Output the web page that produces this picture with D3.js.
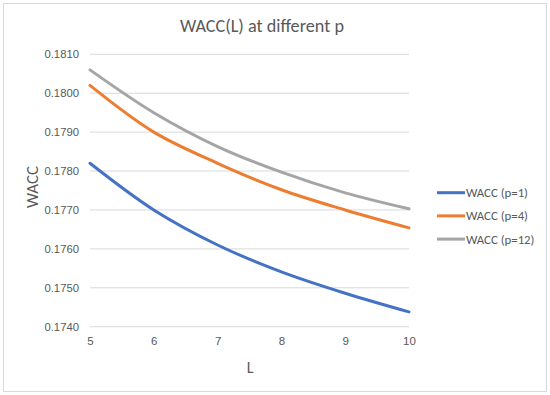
<!DOCTYPE html>
<html><head><meta charset="utf-8">
<script src="https://cdn.jsdelivr.net/npm/d3@7"></script>
<style>body{margin:0;background:#fff;}svg{display:block;font-family:Calibri,Carlito,"Liberation Sans","Open Sans",sans-serif;}</style>
</head><body>
<script>
const L = [5, 6, 7, 8, 9, 10];
const waccP1 = [0.1782, 0.1770, 0.1761, 0.17541, 0.17486, 0.17438];
const waccP4 = [0.1802, 0.1790, 0.1782, 0.17752, 0.17700, 0.17654];
const waccP12 = [0.1806, 0.1795, 0.17863, 0.17797, 0.17744, 0.17703];
const seriesNames = ["WACC (p=1)", "WACC (p=4)", "WACC (p=12)"];
const colors = ["#4472C4", "#ED7D31", "#A5A5A5"];
const yTicks = [0.1740, 0.1750, 0.1760, 0.1770, 0.1780, 0.1790, 0.1800, 0.1810];

const W = 550, H = 395;
const svg = d3.select("body").append("svg").attr("width", W).attr("height", H);
svg.append("rect").attr("x", 3.5).attr("y", 3.5).attr("width", W - 7).attr("height", H - 7)
  .attr("fill", "#fff").attr("stroke", "#d9d9d9");

const x = d3.scaleLinear().domain([5, 10]).range([90, 409]);
const y = d3.scaleLinear().domain([0.1740, 0.1810]).range([326.7, 54.3]);

// gridlines
svg.append("g").selectAll("line").data(yTicks).join("line")
  .attr("x1", x(5)).attr("x2", x(10))
  .attr("y1", d => y(d)).attr("y2", d => y(d))
  .attr("stroke", "#d9d9d9").attr("stroke-width", 1);

// y axis labels
const yAxis = d3.axisLeft(y).tickValues(yTicks).tickFormat(d3.format(".4f")).tickSize(0).tickPadding(11);
const gy = svg.append("g").attr("transform", `translate(${x(5)},0)`).call(yAxis);
gy.select(".domain").remove();
gy.selectAll("text").attr("fill", "#595959").attr("font-size", 11.3).style("font-family", "inherit");

// x axis labels
const xAxis = d3.axisBottom(x).tickValues(L).tickFormat(d3.format("d")).tickSize(0).tickPadding(10);
const gx = svg.append("g").attr("transform", `translate(0,${y(0.1740)})`).call(xAxis);
gx.select(".domain").remove();
gx.selectAll("text").attr("fill", "#595959").attr("font-size", 11.5).style("font-family", "inherit");

// title
svg.append("text").attr("x", 262).attr("y", 32).attr("text-anchor", "middle")
  .attr("fill", "#595959").attr("font-size", 18.2).text("WACC(L) at different p");
// axis titles
svg.append("text").attr("x", 250).attr("y", 373).attr("text-anchor", "middle")
  .attr("fill", "#595959").attr("font-size", 16).text("L");
svg.append("text").attr("transform", "translate(37.5,187) rotate(-90)").attr("text-anchor", "middle")
  .attr("fill", "#595959").attr("font-size", 17).text("WACC");

// lines
const data = [waccP1, waccP4, waccP12];
const line = d3.line().x((d, i) => x(L[i])).y(d => y(d)).curve(d3.curveCatmullRom.alpha(0.5));
svg.append("g").selectAll("path").data(data).join("path")
  .attr("d", d => line(d)).attr("fill", "none")
  .attr("stroke", (d, i) => colors[i]).attr("stroke-width", 3).attr("stroke-linecap", "round");

// legend
const lg = svg.append("g").selectAll("g").data(seriesNames).join("g")
  .attr("transform", (d, i) => `translate(437,${192.7 + i * 23.2})`);
lg.append("line").attr("x1", 0).attr("x2", 28).attr("stroke", (d, i) => colors[i]).attr("stroke-width", 3);
lg.append("text").attr("x", 29).attr("y", 4.5).attr("fill", "#595959").attr("font-size", 12.8).text(d => d);
</script>
</body></html>
